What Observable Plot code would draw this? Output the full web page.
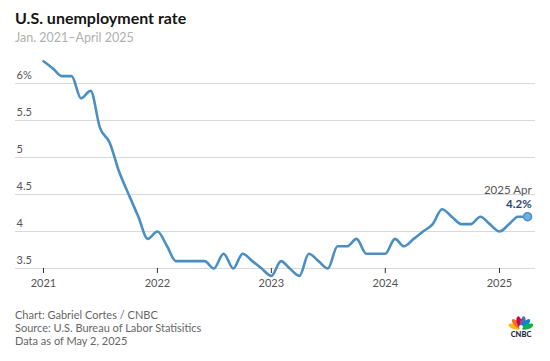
<!DOCTYPE html>
<html><head><meta charset="utf-8">
<script src="https://cdn.jsdelivr.net/npm/d3@7"></script>
<script src="https://cdn.jsdelivr.net/npm/@observablehq/plot@0.6"></script>
<style>
body{margin:0;background:#fff;font-family:Lato,sans-serif;width:550px;height:361px;position:relative;overflow:hidden}
#title{position:absolute;left:15px;top:8px;font-size:16px;font-weight:700;color:#151515;white-space:nowrap}
#sub{position:absolute;left:15px;top:30px;font-size:12.5px;color:#b0b0b0;white-space:nowrap}
#chart{position:absolute;left:0;top:50px}
#cap{position:absolute;left:15px;top:308px;font-size:11px;color:#666;line-height:13px;white-space:nowrap}
#logo{position:absolute;left:506px;top:310px}
</style></head><body>
<div id="title">U.S. unemployment rate</div>
<div id="sub">Jan. 2021–April 2025</div>
<div id="chart"></div>
<div id="cap">Chart: Gabriel Cortes / CNBC<br>Source: U.S. Bureau of Labor Statisitics<br>Data as of May 2, 2025</div>
<svg id="logo" width="30" height="28" viewBox="0 0 30 28">
  <g transform="translate(15,19)">
    <ellipse cx="0" cy="-7" rx="2.6" ry="6" fill="#fcb711" transform="rotate(-70)"/>
    <ellipse cx="0" cy="-7" rx="2.6" ry="6" fill="#f37021" transform="rotate(-42)"/>
    <ellipse cx="0" cy="-7" rx="2.6" ry="6" fill="#cc004c" transform="rotate(-14)"/>
    <ellipse cx="0" cy="-7" rx="2.6" ry="6" fill="#6460aa" transform="rotate(14)"/>
    <ellipse cx="0" cy="-7" rx="2.6" ry="6" fill="#0089d0" transform="rotate(42)"/>
    <ellipse cx="0" cy="-7" rx="2.6" ry="6" fill="#0db14b" transform="rotate(70)"/>
    <circle cx="0" cy="-2" r="2" fill="#fff"/>
  </g>
  <text x="15" y="27" text-anchor="middle" font-family="Lato" font-weight="900" font-size="7.5" fill="#1f2a44">CNBC</text>
</svg>
<script>
const years = [2021, 2022, 2023, 2024, 2025];
const rate2021 = [6.3, 6.2, 6.1, 6.1, 5.8, 5.9, 5.4, 5.2, 4.8, 4.5, 4.2, 3.9];
const rate2022 = [4.0, 3.8, 3.6, 3.6, 3.6, 3.6, 3.5, 3.7, 3.5, 3.7, 3.6, 3.5];
const rate2023 = [3.4, 3.6, 3.5, 3.4, 3.7, 3.6, 3.5, 3.8, 3.8, 3.9, 3.7, 3.7];
const rate2024 = [3.7, 3.9, 3.8, 3.9, 4.0, 4.1, 4.3, 4.2, 4.1, 4.1, 4.2, 4.1];
const rate2025 = [4.0, 4.1, 4.2, 4.2];
const yTicks = [3.5, 4, 4.5, 5, 5.5, 6];
const yTickLabels = ["3.5", "4", "4.5", "5", "5.5", "6%"];
const lastLabel = "2025 Apr";

const series = [rate2021, rate2022, rate2023, rate2024, rate2025];
const data = [];
series.forEach((arr, i) => arr.forEach((v, m) => data.push({date: new Date(Date.UTC(years[i], m, 1)), rate: v})));
const last = data[data.length - 1];
const yearTicks = years.map(y => new Date(Date.UTC(y, 0, 1)));

const lineColor = "#4a8fc4";
const chart = Plot.plot({
  width: 550,
  height: 245,
  marginLeft: 15,
  marginRight: 15,
  marginTop: 0,
  marginBottom: 27,
  style: {fontFamily: "Lato", fontSize: "11px", background: "transparent"},
  x: {type: "utc", domain: [yearTicks[0], yearTicks[4]], range: [43, 499], axis: null},
  y: {domain: [3.5, 6], range: [218, 33], axis: null},
  marks: [
    Plot.gridY(yTicks, {stroke: "#d9d9d9", strokeOpacity: 1, strokeWidth: 1}),
    Plot.text(yTicks, {y: d => d, text: (d, i) => yTickLabels[i], frameAnchor: "left", textAnchor: "start", dx: 1, dy: -8, fill: "#555", fontSize: 11}),
    Plot.axisX(yearTicks, {tickFormat: "%Y", tickSize: 5, tickPadding: 6, stroke: "#333", fill: "#555", fontSize: 11}),
    Plot.line(data, {x: "date", y: "rate", stroke: lineColor, strokeWidth: 2.6, curve: "monotone-x"}),
    Plot.dot([last], {x: "date", y: "rate", r: 4, fill: "#6cb0e0", stroke: lineColor, strokeWidth: 1.5}),
    Plot.text([last], {x: "date", y: "rate", text: d => lastLabel, textAnchor: "end", dx: 4, dy: -26, fill: "#555", fontSize: 11.5}),
    Plot.text([last], {x: "date", y: "rate", text: d => d.rate.toFixed(1) + "%", textAnchor: "end", dx: 4, dy: -12, fill: "#2a4b6e", fontSize: 11.5, fontWeight: "bold"})
  ]
});
document.getElementById("chart").appendChild(chart);
</script>
</body></html>
